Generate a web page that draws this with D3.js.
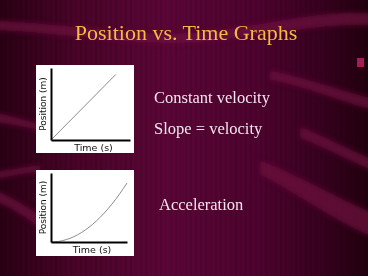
<!DOCTYPE html>
<html>
<head>
<meta charset="utf-8">
<script src="https://cdn.jsdelivr.net/npm/d3@7"></script>
<style>
  body { margin: 0; background: #3a0020; }
  svg { display: block; }
</style>
</head>
<body>
<svg></svg>
<script>
const size = {w: 368, h: 276};
const svg = d3.select('svg');
svg.attr('width', size.w).attr('height', size.h);

// data
const titleText = 'Position vs. Time Graphs';
const notes1 = ['Constant velocity', 'Slope = velocity'];
const notes2 = ['Acceleration'];
const axisLabels = {x: 'Time (s)', y: 'Position (m)'};

const constTime = [0, 10];
const constPos = [0, 10];
const accTime = [0, 1, 2, 3, 4, 5, 6, 7, 8, 9, 10];
const accPos = [0, 1, 4, 9, 16, 25, 36, 49, 64, 81, 100];

// background
const defs = svg.append('defs');
const grad = defs.append('linearGradient').attr('id', 'bg');
[[0, '#2a0014'], [0.2, '#480427'], [0.45, '#5a0636'], [0.7, '#4e032e'], [0.88, '#36011e'], [1, '#22000e']]
    .forEach(s => grad.append('stop').attr('offset', s[0]).attr('stop-color', s[1]));
const blur = defs.append('filter').attr('id', 'soft').attr('x', '-20%').attr('y', '-50%').attr('width', '140%').attr('height', '200%');
blur.append('feGaussianBlur').attr('stdDeviation', 2.5);

svg.append('rect').attr('width', size.w).attr('height', size.h).attr('fill', 'url(#bg)');

// faint vertical stripes
const stripes = d3.range(0, size.w, 5);
svg.append('g').selectAll('rect').data(stripes).enter().append('rect')
    .attr('x', d => d).attr('y', 0).attr('width', 2).attr('height', size.h)
    .attr('fill', '#000').attr('opacity', (d, i) => 0.04 + (i % 3) * 0.03);

// swooshes
const swooshes = [
    'M-10,20 C80,24 150,40 220,30 C280,22 330,8 380,14 L380,26 C330,22 280,34 220,40 C150,50 80,34 -10,30 Z',
    'M270,70 C310,78 345,92 380,100 L380,112 C345,104 310,88 270,80 Z',
    'M300,126 C325,136 350,150 380,162 L380,174 C350,162 325,148 300,138 Z',
    'M260,160 C300,175 340,200 380,215 L380,240 C340,226 300,195 260,175 Z',
    'M-10,112 C10,114 25,120 40,124 L40,130 C25,128 10,124 -10,122 Z',
    'M-10,172 C10,170 25,166 40,165 L40,172 C25,173 10,177 -10,180 Z',
    'M-10,188 C10,195 25,205 40,215 L40,228 C25,218 10,206 -10,200 Z'
];
svg.append('g').attr('filter', 'url(#soft)').selectAll('path').data(swooshes).enter().append('path')
    .attr('d', d => d).attr('fill', '#700a40').attr('opacity', 0.7);

// square accent on the right
svg.append('rect').attr('x', 357).attr('y', 58).attr('width', 7).attr('height', 9)
    .attr('fill', '#a81a56');

// title
svg.append('text')
    .attr('x', 186).attr('y', 40)
    .attr('text-anchor', 'middle')
    .style('font-family', '"Liberation Serif", "Times New Roman", serif')
    .style('font-size', '22px')
    .attr('fill', '#f3bb45')
    .text(titleText);

// side notes
const serif = '"Liberation Serif", "Times New Roman", serif';
svg.append('g').selectAll('text').data(notes1).enter().append('text')
    .attr('x', 154).attr('y', (d, i) => 103 + i * 31)
    .style('font-family', serif).style('font-size', '16.5px')
    .attr('fill', '#f6e6ef').text(d => d);
svg.append('g').selectAll('text').data(notes2).enter().append('text')
    .attr('x', 159).attr('y', 210)
    .style('font-family', serif).style('font-size', '16.5px')
    .attr('fill', '#f6e6ef').text(d => d);

function drawGraph(box, plot, xs, ys, xDomain, yDomain) {
    const g = svg.append('g');
    g.append('rect')
        .attr('x', box.x).attr('y', box.y).attr('width', box.w).attr('height', box.h)
        .attr('fill', '#ffffff');

    const x = d3.scaleLinear().domain(xDomain).range([plot.l, plot.r]);
    const y = d3.scaleLinear().domain(yDomain).range([plot.b, plot.t]);

    const pts = xs.map((d, i) => [d, ys[i]]);
    g.append('path')
        .datum(pts)
        .attr('d', d3.line().x(d => x(d[0])).y(d => y(d[1])).curve(d3.curveMonotoneX))
        .attr('fill', 'none')
        .attr('stroke', '#8c8c8c')
        .attr('stroke-width', 1);

    const xAxis = g.append('g').attr('transform', 'translate(0,' + plot.b + ')')
        .call(d3.axisBottom(x).tickValues([]).tickSizeOuter(0));
    const yAxis = g.append('g').attr('transform', 'translate(' + plot.l + ',0)')
        .call(d3.axisLeft(y).tickValues([]).tickSizeOuter(0));
    [xAxis, yAxis].forEach(a => a.select('.domain')
        .attr('stroke', '#000').attr('stroke-width', 2));

    g.append('text')
        .attr('x', (plot.l + plot.r) / 2 + 3).attr('y', plot.b + 10.5)
        .attr('text-anchor', 'middle')
        .style('font-family', '"DejaVu Sans", Verdana, sans-serif')
        .style('font-size', '9.5px')
        .attr('fill', '#111')
        .text(axisLabels.x);
    g.append('text')
        .attr('transform', 'translate(' + (plot.l - 5) + ',' + ((plot.t + plot.b) / 2) + ') rotate(-90)')
        .attr('text-anchor', 'middle')
        .style('font-family', '"DejaVu Sans", Verdana, sans-serif')
        .style('font-size', '9px')
        .attr('fill', '#111')
        .text(axisLabels.y);
}

drawGraph({x: 36, y: 65, w: 98, h: 88}, {l: 51, r: 130, t: 68, b: 140},
    constTime, constPos, [0, 12.2], [0, 11]);
drawGraph({x: 36, y: 170, w: 98, h: 86}, {l: 51, r: 127, t: 173, b: 242},
    accTime, accPos, [0, 10], [0, 117]);
</script>
</body>
</html>
